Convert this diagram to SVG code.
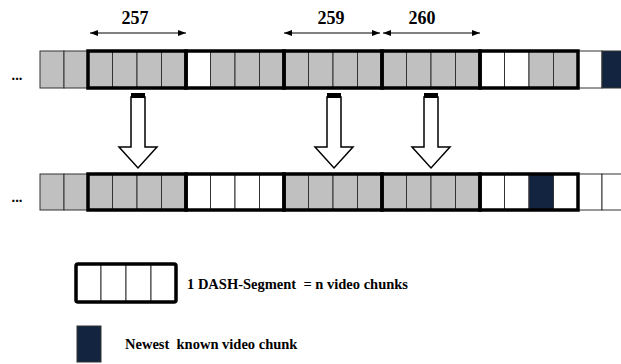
<svg xmlns="http://www.w3.org/2000/svg" width="621" height="364" viewBox="0 0 621 364">
<style>
.g{fill:#c0c0c0;stroke:#333;stroke-width:1}
.w{fill:#fff;stroke:#333;stroke-width:1}
.n{fill:#12243f;stroke:#333;stroke-width:1}
.seg{fill:none;stroke:#000;stroke-width:3.5}
.t{font-family:"Liberation Serif","DejaVu Serif",serif;font-weight:bold;font-size:14.5px;fill:#000}
.lbl{font-size:18px}
.dim{stroke:#000;stroke-width:1;fill:none}
.blk{fill:#fff;stroke:#000;stroke-width:1.5}
</style>
<defs>
<marker id="ah" viewBox="0 0 8 8" refX="8" refY="4" markerWidth="8" markerHeight="8" markerUnits="userSpaceOnUse" orient="auto-start-reverse">
<path d="M0,1 L8,4 L0,7 z" fill="#000"/>
</marker>
</defs>
<g id="row-top">
<text class="t" x="17" y="80" text-anchor="middle">...</text>
<rect class="g" x="40" y="51" width="24" height="37"/>
<rect class="g" x="64" y="51" width="24" height="37"/>
<rect class="g" x="88" y="51" width="24.5" height="37"/><rect class="g" x="112.5" y="51" width="24.5" height="37"/><rect class="g" x="137" y="51" width="24.5" height="37"/><rect class="g" x="161.5" y="51" width="24.5" height="37"/>
<rect class="w" x="186" y="51" width="24.5" height="37"/><rect class="g" x="210.5" y="51" width="24.5" height="37"/><rect class="g" x="235" y="51" width="24.5" height="37"/><rect class="g" x="259.5" y="51" width="24.5" height="37"/>
<rect class="g" x="284" y="51" width="24.5" height="37"/><rect class="g" x="308.5" y="51" width="24.5" height="37"/><rect class="g" x="333" y="51" width="24.5" height="37"/><rect class="g" x="357.5" y="51" width="24.5" height="37"/>
<rect class="g" x="382" y="51" width="24.5" height="37"/><rect class="g" x="406.5" y="51" width="24.5" height="37"/><rect class="g" x="431" y="51" width="24.5" height="37"/><rect class="g" x="455.5" y="51" width="24.5" height="37"/>
<rect class="w" x="480" y="51" width="24.5" height="37"/><rect class="w" x="504.5" y="51" width="24.5" height="37"/><rect class="g" x="529" y="51" width="24.5" height="37"/><rect class="g" x="553.5" y="51" width="24.5" height="37"/>
<rect class="w" x="578" y="51" width="24" height="37"/>
<rect class="n" x="602" y="51" width="24" height="37"/>
<rect class="seg" x="88" y="51" width="98" height="37"/>
<rect class="seg" x="186" y="51" width="98" height="37"/>
<rect class="seg" x="284" y="51" width="98" height="37"/>
<rect class="seg" x="382" y="51" width="98" height="37"/>
<rect class="seg" x="480" y="51" width="98" height="37"/>
</g>
<g id="row-bottom">
<text class="t" x="17" y="202" text-anchor="middle">...</text>
<rect class="g" x="40" y="174" width="24" height="36"/>
<rect class="g" x="64" y="174" width="24" height="36"/>
<rect class="g" x="88" y="174" width="24.5" height="36"/><rect class="g" x="112.5" y="174" width="24.5" height="36"/><rect class="g" x="137" y="174" width="24.5" height="36"/><rect class="g" x="161.5" y="174" width="24.5" height="36"/>
<rect class="w" x="186" y="174" width="24.5" height="36"/><rect class="w" x="210.5" y="174" width="24.5" height="36"/><rect class="w" x="235" y="174" width="24.5" height="36"/><rect class="w" x="259.5" y="174" width="24.5" height="36"/>
<rect class="g" x="284" y="174" width="24.5" height="36"/><rect class="g" x="308.5" y="174" width="24.5" height="36"/><rect class="g" x="333" y="174" width="24.5" height="36"/><rect class="g" x="357.5" y="174" width="24.5" height="36"/>
<rect class="g" x="382" y="174" width="24.5" height="36"/><rect class="g" x="406.5" y="174" width="24.5" height="36"/><rect class="g" x="431" y="174" width="24.5" height="36"/><rect class="g" x="455.5" y="174" width="24.5" height="36"/>
<rect class="w" x="480" y="174" width="24.5" height="36"/><rect class="w" x="504.5" y="174" width="24.5" height="36"/><rect class="n" x="529" y="174" width="24.5" height="36"/><rect class="w" x="553.5" y="174" width="24.5" height="36"/>
<rect class="w" x="578" y="174" width="24" height="36"/>
<rect class="w" x="602" y="174" width="24" height="36"/>
<rect class="seg" x="88" y="174" width="98" height="36"/>
<rect class="seg" x="186" y="174" width="98" height="36"/>
<rect class="seg" x="284" y="174" width="98" height="36"/>
<rect class="seg" x="382" y="174" width="98" height="36"/>
<rect class="seg" x="480" y="174" width="98" height="36"/>
</g>
<g id="labels">
<text class="t lbl" x="135" y="24" text-anchor="middle">257</text>
<text class="t lbl" x="331" y="24" text-anchor="middle">259</text>
<text class="t lbl" x="422" y="24" text-anchor="middle">260</text>
</g>
<g id="connectors">
<line class="dim" x1="90" y1="33" x2="186" y2="33" marker-start="url(#ah)" marker-end="url(#ah)"/>
<line class="dim" x1="284" y1="33" x2="380" y2="33" marker-start="url(#ah)" marker-end="url(#ah)"/>
<line class="dim" x1="383" y1="33" x2="480" y2="33" marker-start="url(#ah)" marker-end="url(#ah)"/>
<g id="block-arrow-1">
<polygon class="blk" points="131,97 145,97 145,147 157,147 138,168 119,147 131,147"/>
<rect x="131" y="93" width="14" height="5" fill="#000"/>
</g>
<g id="block-arrow-2">
<polygon class="blk" points="327,97 341,97 341,147 353,147 334,168 315,147 327,147"/>
<rect x="327" y="93" width="14" height="5" fill="#000"/>
</g>
<g id="block-arrow-3">
<polygon class="blk" points="424,97 438,97 438,147 450,147 431,168 412,147 424,147"/>
<rect x="424" y="93" width="14" height="5" fill="#000"/>
</g>
</g>
<g id="legend-segment">
<rect class="w" x="76" y="264" width="25" height="38"/><rect class="w" x="101" y="264" width="25" height="38"/><rect class="w" x="126" y="264" width="25" height="38"/><rect class="w" x="151" y="264" width="25" height="38"/>
<rect class="seg" x="76" y="264" width="100" height="38" rx="2"/>
<text class="t" x="187" y="289" xml:space="preserve">1 DASH-Segment  = n video chunks</text>
</g>
<g id="legend-newest">
<rect class="n" x="77" y="326" width="24" height="36"/>
<text class="t" x="125" y="349" xml:space="preserve">Newest  known video chunk</text>
</g>
</svg>
